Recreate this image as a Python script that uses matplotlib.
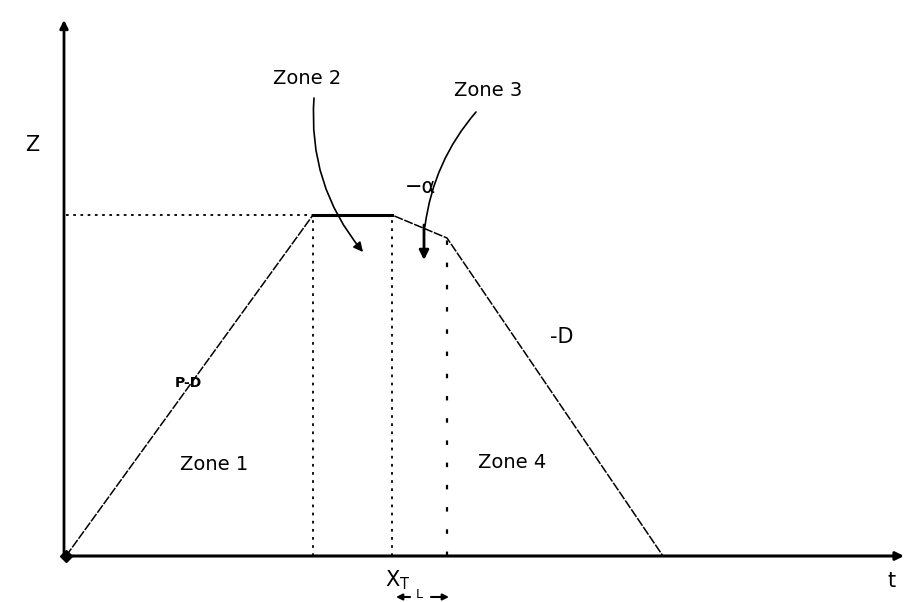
import numpy as np
import matplotlib.pyplot as plt

# break points of the Z(t) profile (schematic units, origin at axes corner)
t_knots = [0, 247, 326, 381, 597]
z_knots = [0, 341, 341, 318, 0]

zone_names = ["Zone 1", "Zone 2", "Zone 3", "Zone 4"]
slope_labels = ["P-D", "\u2212\u03b1", "-D"]
axis_labels = ["Z", "t"]
xt_label = r"$\mathregular{X_T}$"
len_label = "L"


def draw_axes(ax):
    ax.annotate("", xy=(838, 0), xytext=(0, 0),
                arrowprops=dict(arrowstyle="-|>", lw=2.2, color="black",
                                mutation_scale=12, shrinkA=0, shrinkB=0))
    ax.annotate("", xy=(-2, 536), xytext=(-2, 0),
                arrowprops=dict(arrowstyle="-|>", lw=2.0, color="black",
                                mutation_scale=12, shrinkA=0, shrinkB=0))
    ax.plot([0], [0], marker="D", ms=6, color="black")
    ax.text(-34, 411, axis_labels[0], fontsize=15, ha="center", va="center")
    ax.text(826, -25, axis_labels[1], fontsize=15, ha="center", va="center")


def draw_profile(ax):
    t = np.array(t_knots)
    z = np.array(z_knots)
    ax.plot(t, z, color="black", lw=1.1, ls=(0, (6, 1)))
    ax.plot(t[1:3], z[1:3], color="black", lw=2.2)

    # guides
    ax.plot([0, t[1]], [z[1], z[1]], color="black", lw=1.3, ls=(0, (1.5, 2.5)))
    ax.plot([t[1], t[1]], [0, z[1]], color="black", lw=1.3, ls=(0, (1.5, 3)))
    ax.plot([t[2], t[2]], [0, z[2]], color="black", lw=1.3, ls=(0, (1.5, 3)))
    ax.plot([t[3], t[3]], [0, z[3]], color="black", lw=1.6, ls=(0, (2, 8)))


def draw_labels(ax):
    t = np.array(t_knots)
    kw = dict(fontsize=14, ha="center", va="center")
    ax.text(148, 91, zone_names[0], **kw)
    ax.text(241, 477, zone_names[1], **kw)
    ax.text(422, 465, zone_names[2], **kw)
    ax.text(446, 93, zone_names[3], **kw)

    ax.text(122, 173, slope_labels[0], fontsize=10, fontweight="bold",
            ha="center", va="center")
    ax.text(354, 369, slope_labels[1], fontsize=15, ha="center", va="center")
    ax.text(496, 219, slope_labels[2], fontsize=15, ha="center", va="center")

    # zone 2 pointer
    ax.annotate("", xy=(297, 304), xytext=(248, 458),
                arrowprops=dict(arrowstyle="-|>", lw=1.2, color="black",
                                connectionstyle="arc3,rad=0.2",
                                mutation_scale=14, shrinkA=0, shrinkB=0))
    # zone 3 pointer
    ax.annotate("", xy=(359, 330), xytext=(410, 444),
                arrowprops=dict(arrowstyle="-", lw=1.2, color="black",
                                connectionstyle="arc3,rad=0.15",
                                shrinkA=0, shrinkB=0))
    ax.annotate("", xy=(358, 296), xytext=(358, 331),
                arrowprops=dict(arrowstyle="-|>", lw=2.0, color="black",
                                mutation_scale=14, shrinkA=0, shrinkB=0))

    ax.text(t[2] + 6, -24, xt_label, fontsize=15, ha="center", va="center")
    ax.annotate("", xy=(t[2] + 4, -41), xytext=(t[3] + 2, -41),
                arrowprops=dict(arrowstyle="<|-|>", lw=1.5, color="black",
                                mutation_scale=9, shrinkA=0, shrinkB=0))
    ax.text((t[2] + t[3]) / 2, -39, len_label, fontsize=9,
            ha="center", va="center", backgroundcolor="white")


def main():
    fig = plt.figure(figsize=(9.05, 6.02), dpi=100)
    ax = fig.add_axes([0, 0, 1, 1])
    ax.set_xlim(-66, 839)
    ax.set_ylim(-46, 556)
    ax.axis("off")

    draw_axes(ax)
    draw_profile(ax)
    draw_labels(ax)

    fig.savefig("out.png", dpi=100, facecolor="white")


if __name__ == "__main__":
    main()
